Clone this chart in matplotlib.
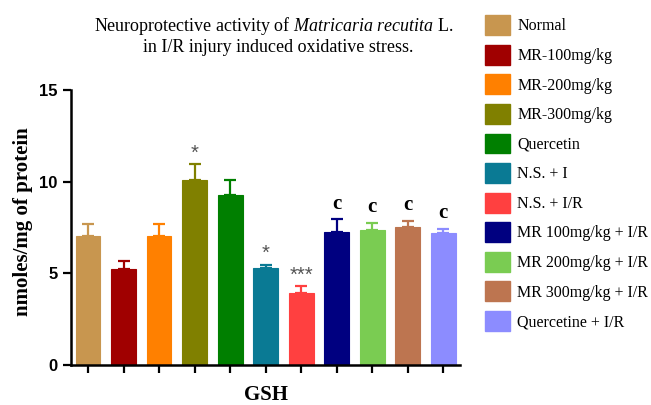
import numpy as np
import matplotlib.pyplot as plt
from matplotlib.patches import Patch

plt.rcParams['mathtext.fontset'] = 'custom'
plt.rcParams['mathtext.rm'] = 'Liberation Serif'
plt.rcParams['mathtext.it'] = 'Liberation Serif:italic'

# data
groups = ['Normal', 'MR-100mg/kg', 'MR-200mg/kg', 'MR-300mg/kg', 'Quercetin',
          'N.S. + I', 'N.S. + I/R', 'MR 100mg/kg + I/R', 'MR 200mg/kg + I/R',
          'MR 300mg/kg + I/R', 'Quercetine + I/R']
gsh = [7.05, 5.25, 7.05, 10.07, 9.28, 5.29, 3.93, 7.25, 7.35, 7.5, 7.18]
sem = [0.65, 0.4, 0.65, 0.9, 0.8, 0.18, 0.36, 0.7, 0.4, 0.36, 0.24]
marks = ['', '', '', '*', '', '*', '***', 'c', 'c', 'c', 'c']
colors = ['#C8964F', '#A00000', '#FF8000', '#808000', '#007F00', '#0A7A94',
          '#FF4040', '#000080', '#7ACC52', '#BD7550', '#8C8CFF']

fig = plt.figure(figsize=(6.51, 4.05), dpi=100)
ax = fig.add_axes([0.109, 0.099, 0.598, 0.679])

x = np.arange(len(groups))
for i in range(len(groups)):
    ax.bar(x[i], gsh[i], width=0.7, color=colors[i], edgecolor=colors[i], linewidth=0.8)
    ax.errorbar(x[i], gsh[i], yerr=[[0], [sem[i]]], fmt='none', ecolor=colors[i],
                elinewidth=1.6, capsize=4.5, capthick=1.6)
    m = marks[i]
    if m == 'c':
        ax.annotate(m, (x[i], gsh[i] + sem[i]), xytext=(0, 4), textcoords='offset points',
                    ha='center', va='bottom', fontsize=15, fontweight='bold',
                    family='Liberation Serif')
    elif m:
        ax.annotate(m, (x[i], gsh[i] + sem[i]), xytext=(0, 1), textcoords='offset points',
                    ha='center', va='bottom', fontsize=14.5, color='#555555',
                    family='Liberation Sans')

ax.set_xlim(-0.48, len(groups) - 0.52)
ax.set_ylim(0, 15)
ax.set_yticks([0, 5, 10, 15])
ax.set_xticks(x)
ax.set_xticklabels([''] * len(groups))
for s in ['top', 'right']:
    ax.spines[s].set_visible(False)
for s in ['left', 'bottom']:
    ax.spines[s].set_linewidth(1.8)
ax.tick_params(axis='both', direction='out', length=6, width=1.6)
for lab in ax.get_yticklabels():
    lab.set_fontweight('bold')
    lab.set_fontsize(12)
    lab.set_family('Liberation Sans')

ax.set_ylabel('nmoles/mg of protein', fontsize=15, fontweight='bold',
              family='Liberation Serif')
ax.yaxis.set_label_coords(-0.098, 0.52)
ax.set_xlabel('GSH', fontsize=15, fontweight='bold', family='Liberation Serif', labelpad=5)

fig.text(0.421, 0.935, r'Neuroprotective activity of $\mathit{Matricaria\ recutita}$ L.',
         ha='center', va='center', fontsize=13, family='Liberation Serif')
fig.text(0.427, 0.882, 'in I/R injury induced oxidative stress.',
         ha='center', va='center', fontsize=13, family='Liberation Serif')

handles = [Patch(facecolor=c, edgecolor=c) for c in colors]
fig.legend(handles, groups, loc='upper left', bbox_to_anchor=(0.726, 0.994),
           frameon=False, prop={'family': 'Liberation Serif', 'size': 11.5},
           handlelength=1.56, handleheight=1.546, labelspacing=0.602, handletextpad=0.44,
           borderpad=0.3)

fig.savefig('out.png', dpi=100, facecolor='white')
